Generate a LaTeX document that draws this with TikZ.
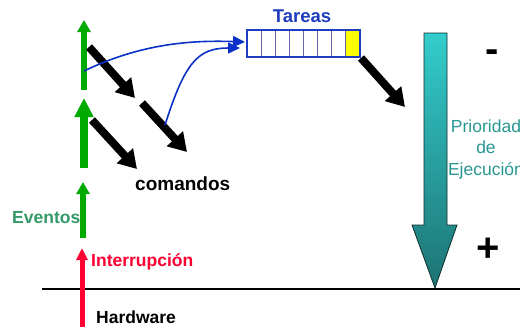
\documentclass[tikz,border=0pt]{standalone}
\usepackage{fontspec}
\setmainfont{Liberation Sans}
\usetikzlibrary{arrows.meta}
\definecolor{evgreen}{RGB}{0,170,0}
\definecolor{evtext}{RGB}{51,153,102}
\definecolor{intred}{RGB}{255,0,51}
\definecolor{qblue}{RGB}{30,60,190}
\definecolor{qline}{RGB}{100,100,170}
\definecolor{cblue}{RGB}{10,50,200}
\definecolor{tealtop}{RGB}{51,204,204}
\definecolor{tealbot}{RGB}{30,115,115}
\definecolor{tealtext}{RGB}{40,150,145}
\definecolor{qyellow}{RGB}{255,255,0}
\tikzset{
  greenarrow/.style={draw=evgreen,line width=6pt,-{Triangle[length=12pt,width=13pt]}},
  blackarrow/.style={draw=black,line width=8pt,-{Triangle[length=18pt,width=21pt]}},
  bluecurve/.style={draw=cblue,line width=1.6pt,-{Triangle[length=12pt,width=11pt]}},
  lbl/.style={font=\bfseries\fontsize{17.5pt}{20pt}\selectfont,inner sep=0pt},
  cell/.style={draw=qline,line width=0.8pt,minimum width=14.1pt,minimum height=27pt,inner sep=0pt,outer sep=0pt,anchor=north west},
}
\begin{document}
\begin{tikzpicture}[x=1pt,y=-1pt]
\useasboundingbox (0,0) rectangle (520,327);
% ground line
\coordinate (gl) at (42,289);
\coordinate (gr) at (520,289);
\draw[line width=1.3pt] (gl) -- (gr);
% green arrows
\coordinate (g1b) at (84,90); \coordinate (g1t) at (84,20);
\coordinate (g2b) at (84,168); \coordinate (g2t) at (84,98);
\coordinate (g3b) at (83,238); \coordinate (g3t) at (83,182);
\draw[greenarrow] (g1b) -- (g1t);
\draw[greenarrow,line width=8pt,-{Triangle[length=19pt,width=18pt]}] (g2b) -- (g2t);
\draw[greenarrow] (g3b) -- (g3t);
% red arrow
\coordinate (rb) at (82,330); \coordinate (rt) at (82,248);
\draw[draw=intred,line width=5pt,-{Triangle[length=12pt,width=11pt]}] (rb) -- (rt);
% labels
\node[lbl,text=evtext,anchor=west] (ev) at (12,218) {Eventos};
\node[lbl,text=intred,anchor=west] (intr) at (91,262) {Interrupción};
\node[lbl,anchor=west] (hw) at (96,317) {Hardware};
\node[lbl,anchor=west,font=\bfseries\fontsize{19pt}{22pt}\selectfont] (cmd) at (135,184) {comandos};
\node[lbl,text=qblue,font=\bfseries\fontsize{18.5pt}{22pt}\selectfont] (tar) at (302,16) {Tareas};
% queue
\foreach \i in {0,...,6} {
  \node[cell] (c\i) at ({247+14.1*\i},30) {};
}
\node[cell,fill=qyellow] (c7) at ({247+14.1*7},30) {};
\draw[draw=qblue,line width=1.4pt] (247,30) rectangle (360,57);
\coordinate (qin1) at (245,42);
\coordinate (qin2) at (240,48);
% black arrows
\coordinate (b1s) at (89,47); \coordinate (b1e) at (135,98);
\coordinate (b2s) at (142,103); \coordinate (b2e) at (187,152);
\coordinate (b3s) at (92,120); \coordinate (b3e) at (137,169);
\coordinate (b4s) at (361,58); \coordinate (b4e) at (405,107);
\draw[blackarrow] (b1s) -- (b1e);
\draw[blackarrow] (b2s) -- (b2e);
\draw[blackarrow] (b3s) -- (b3e);
\draw[blackarrow] (b4s) -- (b4e);
% blue curves
\coordinate (bc1) at (84,71);
\coordinate (bc2) at (165,125);
\draw[bluecurve] (bc1) .. controls (140,44) and (190,40) .. (qin1);
\draw[bluecurve] (bc2) .. controls (185,62) and (198,48) .. (qin2);
% priority arrow
\shade[top color=tealtop,bottom color=tealbot,draw=black!60!tealbot,line width=0.8pt]
  (424,33) -- (447,33) -- (447,225) -- (457,225) -- (435,288) -- (412,225) -- (424,225) -- cycle;
\node[text=tealtext,align=center,font=\fontsize{17.5pt}{21.5pt}\selectfont,inner sep=0pt] (prio) at (486,149) {Prioridad\\de\\Ejecución};
\node[font=\bfseries\fontsize{40pt}{40pt}\selectfont,inner sep=0pt] (minus) at (492,56) {-};
\node[font=\bfseries\fontsize{40pt}{40pt}\selectfont,inner sep=0pt] (plus) at (488,250) {+};
\end{tikzpicture}
\end{document}
